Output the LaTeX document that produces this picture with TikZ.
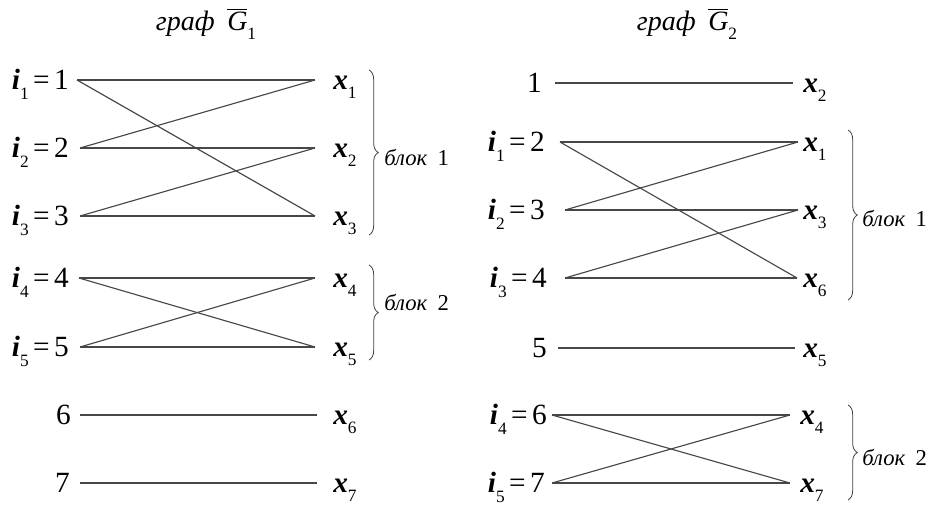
\documentclass[tikz,border=0pt]{standalone}
\usepackage{fontspec}
\setmainfont{Liberation Serif}
\usetikzlibrary{decorations.pathreplacing}
\newcommand\subsc[1]{\raisebox{-0.32em}{\fontsize{13}{13}\selectfont #1}}
\newcommand\iv[2]{\textbf{\textit{i}}\subsc{#1}\hspace{0.15em}=\hspace{0.15em}#2}
\newcommand\xv[1]{\textbf{\textit{x}}\subsc{#1}}
\newcommand\gbar[1]{\textit{граф}\hspace{0.45em}$\overline{\mbox{\textit{G}}}$\subsc{#1}}
\newcommand\blk[1]{\textit{блок}\hspace{0.45em}#1}
\begin{document}
\begin{tikzpicture}[x=0.75pt,y=-0.75pt,
  lab/.style={font=\fontsize{22}{26}\selectfont, inner sep=0pt},
  llab/.style={lab, anchor=mid east, yshift=-5pt},
  rlab/.style={lab, anchor=mid west, yshift=-4.5pt},
  ttl/.style={font=\fontsize{21}{24}\selectfont, inner sep=0pt, anchor=center},
  blab/.style={font=\fontsize{17}{20}\selectfont, inner sep=0pt, anchor=west},
  edge/.style={draw=black!72, line width=0.85pt},
  brc/.style={draw=black!75, line width=0.6pt, decorate, decoration={brace, amplitude=7pt, aspect=0.5}}]
\path[use as bounding box] (0,0) rectangle (939,504);

% ---------- left graph ----------
\node[ttl] (t1) at (206,24) {\gbar{1}};

\node[llab] (a1) at (69,80) {\iv{1}{1}};
\node[llab] (a2) at (69,148) {\iv{2}{2}};
\node[llab] (a3) at (69,216) {\iv{3}{3}};
\node[llab] (a4) at (69,278) {\iv{4}{4}};
\node[llab] (a5) at (69,347) {\iv{5}{5}};
\node[llab] (a6) at (71,415) {6};
\node[llab] (a7) at (70,483) {7};

\coordinate (p1) at (77,80);
\coordinate (p2) at (80,148);
\coordinate (p3) at (80,216);
\coordinate (p4) at (79,278);
\coordinate (p5) at (80,347);
\coordinate (p6) at (80,415);
\coordinate (p7) at (80,483);

\coordinate (q1) at (315,80);
\coordinate (q2) at (315,148);
\coordinate (q3) at (315,216);
\coordinate (q4) at (315,278);
\coordinate (q5) at (315,347);
\coordinate (q6) at (317,415);
\coordinate (q7) at (317,483);

\node[rlab] (c1) at (333,80) {\xv{1}};
\node[rlab] (c2) at (333,148) {\xv{2}};
\node[rlab] (c3) at (333,216) {\xv{3}};
\node[rlab] (c4) at (333,278) {\xv{4}};
\node[rlab] (c5) at (333,347) {\xv{5}};
\node[rlab] (c6) at (333,415) {\xv{6}};
\node[rlab] (c7) at (333,483) {\xv{7}};

\draw[edge] (p1) -- (q1);
\draw[edge] (p1) -- (q3);
\draw[edge] (p2) -- (q1);
\draw[edge] (p2) -- (q2);
\draw[edge] (p3) -- (q2);
\draw[edge] (p3) -- (q3);
\draw[edge] (p4) -- (q4);
\draw[edge] (p4) -- (q5);
\draw[edge] (p5) -- (q4);
\draw[edge] (p5) -- (q5);
\draw[edge] (p6) -- (q6);
\draw[edge] (p7) -- (q7);

\coordinate (bt1) at (369,70);
\coordinate (bb1) at (369,235);
\coordinate (bt2) at (369,265);
\coordinate (bb2) at (369,360);
\draw[brc] (bt1) -- (bb1);
\draw[brc] (bt2) -- (bb2);
\node[blab] (k1) at (384,157) {\blk{1}};
\node[blab] (k2) at (384,302) {\blk{2}};

% ---------- right graph ----------
\node[ttl] (t2) at (687,24) {\gbar{2}};

\node[llab] (b1) at (542,83) {1};
\node[llab] (b2) at (545,142) {\iv{1}{2}};
\node[llab] (b3) at (545,210) {\iv{2}{3}};
\node[llab] (b4) at (547,278) {\iv{3}{4}};
\node[llab] (b5) at (547,348) {5};
\node[llab] (b6) at (547,415) {\iv{4}{6}};
\node[llab] (b7) at (545,483) {\iv{5}{7}};

\coordinate (u1) at (555,83);
\coordinate (u2) at (560,142);
\coordinate (u3) at (565,210);
\coordinate (u4) at (565,278);
\coordinate (u5) at (558,348);
\coordinate (u6) at (552,415);
\coordinate (u7) at (552,483);

\coordinate (v1) at (793,83);
\coordinate (v2) at (798,142);
\coordinate (v3) at (798,210);
\coordinate (v4) at (797,278);
\coordinate (v5) at (795,348);
\coordinate (v6) at (790,415);
\coordinate (v7) at (790,483);

\node[rlab] (d1) at (803,83) {\xv{2}};
\node[rlab] (d2) at (803,142) {\xv{1}};
\node[rlab] (d3) at (803,210) {\xv{3}};
\node[rlab] (d4) at (803,278) {\xv{6}};
\node[rlab] (d5) at (803,348) {\xv{5}};
\node[rlab] (d6) at (800,415) {\xv{4}};
\node[rlab] (d7) at (800,483) {\xv{7}};

\draw[edge] (u1) -- (v1);
\draw[edge] (u2) -- (v2);
\draw[edge] (u2) -- (v4);
\draw[edge] (u3) -- (v2);
\draw[edge] (u3) -- (v3);
\draw[edge] (u4) -- (v3);
\draw[edge] (u4) -- (v4);
\draw[edge] (u5) -- (v5);
\draw[edge] (u6) -- (v6);
\draw[edge] (u6) -- (v7);
\draw[edge] (u7) -- (v6);
\draw[edge] (u7) -- (v7);

\coordinate (bt3) at (848,130);
\coordinate (bb3) at (848,300);
\coordinate (bt4) at (848,405);
\coordinate (bb4) at (848,500);
\draw[brc] (bt3) -- (bb3);
\draw[brc] (bt4) -- (bb4);
\node[blab] (k3) at (862,218) {\blk{1}};
\node[blab] (k4) at (862,457) {\blk{2}};
\end{tikzpicture}
\end{document}
